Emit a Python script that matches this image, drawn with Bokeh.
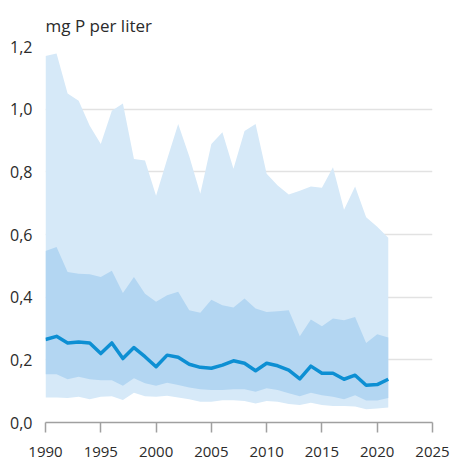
from bokeh.plotting import figure
from bokeh.models import Range1d, FixedTicker
from bokeh.embed import file_html
from bokeh.resources import INLINE

years = list(range(1990, 2022))
p_max = [1.170, 1.178, 1.050, 1.027, 0.947, 0.889, 0.995, 1.018, 0.841, 0.836,
         0.724, 0.840, 0.953, 0.850, 0.730, 0.889, 0.926, 0.810, 0.930, 0.953,
         0.794, 0.756, 0.728, 0.740, 0.753, 0.749, 0.815, 0.679, 0.753, 0.655,
         0.625, 0.590]
p_high = [0.547, 0.560, 0.480, 0.475, 0.473, 0.464, 0.484, 0.413, 0.464, 0.411,
          0.385, 0.406, 0.417, 0.358, 0.350, 0.392, 0.374, 0.367, 0.396, 0.364,
          0.353, 0.355, 0.358, 0.275, 0.329, 0.307, 0.332, 0.326, 0.337, 0.254,
          0.282, 0.271]
median = [0.265, 0.275, 0.254, 0.257, 0.254, 0.220, 0.254, 0.204, 0.239, 0.210,
          0.178, 0.215, 0.208, 0.186, 0.176, 0.173, 0.183, 0.197, 0.189, 0.165,
          0.189, 0.181, 0.167, 0.139, 0.180, 0.157, 0.157, 0.138, 0.151, 0.119,
          0.121, 0.138]
p_low = [0.154, 0.154, 0.138, 0.146, 0.138, 0.135, 0.135, 0.117, 0.141, 0.125,
         0.117, 0.127, 0.120, 0.112, 0.106, 0.104, 0.104, 0.106, 0.106, 0.098,
         0.109, 0.104, 0.093, 0.084, 0.095, 0.087, 0.082, 0.074, 0.087, 0.070,
         0.070, 0.078]
p_min = [0.080, 0.080, 0.078, 0.082, 0.074, 0.082, 0.084, 0.072, 0.095, 0.084,
         0.082, 0.085, 0.080, 0.074, 0.066, 0.066, 0.071, 0.071, 0.069, 0.061,
         0.069, 0.066, 0.059, 0.056, 0.063, 0.056, 0.053, 0.053, 0.051, 0.042,
         0.045, 0.048]

x_ticks = [1990, 1995, 2000, 2005, 2010, 2015, 2020, 2025]
y_ticks = [0.0, 0.2, 0.4, 0.6, 0.8, 1.0, 1.2]
y_labels = ["0,0", "0,2", "0,4", "0,6", "0,8", "1,0", "1,2"]
title_text = "mg P per liter"

FONT = "Open Sans"
TXT = "#2b2b2b"

p = figure(width=452, height=461, output_backend="svg", toolbar_location=None,
           x_range=Range1d(1990, 2025), y_range=Range1d(0, 1.2),
           min_border_left=45, min_border_right=20, min_border_top=46,
           min_border_bottom=39)
p.outline_line_color = None

p.title.text = title_text
p.title.align = "left"
p.title.text_font = FONT
p.title.text_font_size = "17px"
p.title.text_font_style = "normal"
p.title.text_color = TXT
p.title.offset = 0
p.title.standoff = 20

p.varea(x=years, y1=p_min, y2=p_max, fill_color="#d6e9f8")
p.varea(x=years, y1=p_low, y2=p_high, fill_color="#b3d6f2")
p.line(x=years, y=median, line_color="#0d8fd3", line_width=3.5, line_join="round")

xa = p.xaxis[0]
xa.ticker = FixedTicker(ticks=x_ticks)
xa.axis_line_color = "#a0a0a0"
xa.axis_line_width = 1.5
xa.major_tick_line_color = "#a0a0a0"
xa.major_tick_line_width = 1.5
xa.major_tick_in = 0
xa.major_tick_out = 10
xa.minor_tick_line_color = None
xa.major_label_standoff = 14
xa.major_label_text_font = FONT
xa.major_label_text_font_size = "15px"
xa.major_label_text_color = TXT

ya = p.yaxis[0]
ya.ticker = FixedTicker(ticks=y_ticks)
ya.major_label_overrides = {t: l for t, l in zip(y_ticks, y_labels)}
ya.axis_line_color = None
ya.major_tick_line_color = None
ya.minor_tick_line_color = None
ya.major_tick_in = 0
ya.major_tick_out = 0
ya.major_label_standoff = 13
ya.major_label_text_font = FONT
ya.major_label_text_font_size = "16px"
ya.major_label_text_color = TXT

p.xgrid.grid_line_color = None
p.ygrid.ticker = FixedTicker(ticks=y_ticks)
p.ygrid.grid_line_color = "#e2e2e2"
p.ygrid.grid_line_width = 1.5
p.ygrid.level = "underlay"

open("out.html", "w").write(file_html(p, INLINE))
